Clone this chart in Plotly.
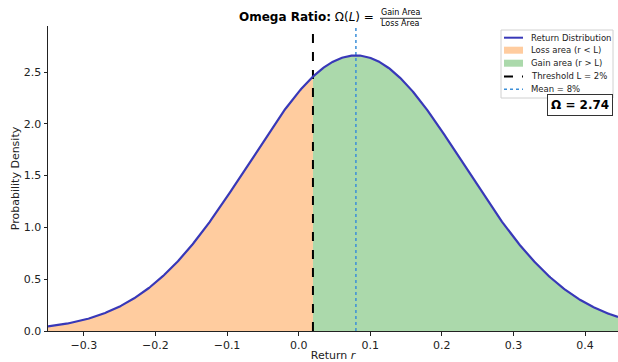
import numpy as np
import plotly.graph_objects as go

# Values
mean_return = 0.08
std_return = 0.15
threshold = 0.02
omega_value = 2.74
x_min, x_max = -0.35, 0.446
y_max = 2.944
x_ticks = [-0.3, -0.2, -0.1, 0.0, 0.1, 0.2, 0.3, 0.4]
y_ticks = [0.0, 0.5, 1.0, 1.5, 2.0, 2.5]
legend_labels = ["Return Distribution", "Loss area (r < L)", "Gain area (r > L)",
                 "Threshold L = 2%", "Mean = 8%"]

r = np.linspace(x_min, x_max, 600)
pdf = np.exp(-0.5 * ((r - mean_return) / std_return) ** 2) / (std_return * np.sqrt(2 * np.pi))

loss_mask = r <= threshold
gain_mask = r >= threshold
pdf_L = np.exp(-0.5 * ((threshold - mean_return) / std_return) ** 2) / (std_return * np.sqrt(2 * np.pi))
r_loss = np.append(r[loss_mask], threshold)
p_loss = np.append(pdf[loss_mask], pdf_L)
r_gain = np.insert(r[gain_mask], 0, threshold)
p_gain = np.insert(pdf[gain_mask], 0, pdf_L)

W, H = 618, 362
L, R, T, B = 48, 0, 26, 31
pw, ph = W - L - R, H - T - B
def px(x):
    return (x - L) / pw
def py(y):
    return (H - B - y) / ph

C_CURVE = "#3838B8"
C_LOSS = "#FFCC9F"
C_GAIN = "#ABD9AB"
C_MEAN = "#3C8FD8"

fig = go.Figure()
fig.add_trace(go.Scatter(x=r_loss, y=p_loss, fill="tozeroy", mode="none",
                         fillcolor=C_LOSS, name=legend_labels[1]))
fig.add_trace(go.Scatter(x=r_gain, y=p_gain, fill="tozeroy", mode="none",
                         fillcolor=C_GAIN, name=legend_labels[2]))
fig.add_trace(go.Scatter(x=[threshold, threshold], y=[0, y_max], mode="lines",
                         line=dict(color="black", width=2, dash="dash"),
                         name=legend_labels[3]))
fig.add_trace(go.Scatter(x=[mean_return, mean_return], y=[0, y_max], mode="lines",
                         line=dict(color=C_MEAN, width=1.5, dash="dot"),
                         name=legend_labels[4]))
fig.add_trace(go.Scatter(x=r, y=pdf, mode="lines",
                         line=dict(color=C_CURVE, width=2.2),
                         name=legend_labels[0]))

font = "DejaVu Sans"
fig.update_layout(
    width=W, height=H,
    margin=dict(l=L, r=R, t=T, b=B),
    paper_bgcolor="white", plot_bgcolor="white",
    font=dict(family=font, color="#222", size=11),
    showlegend=False,
    xaxis=dict(range=[x_min, x_max], tickvals=x_ticks,
               ticktext=[f"{v:.1f}".replace("-", "\u2212") for v in x_ticks],
               showgrid=False, zeroline=False, showline=True, linecolor="#222", linewidth=1,
               ticks="outside", ticklen=3.5, tickcolor="#222",
               title=dict(text="Return <i>r</i>", font=dict(size=11), standoff=4)),
    yaxis=dict(range=[0, y_max], tickvals=y_ticks,
               ticktext=[f"{v:.1f}" for v in y_ticks],
               showgrid=False, zeroline=False, showline=True, linecolor="#222", linewidth=1,
               ticks="outside", ticklen=3.5, tickcolor="#222",
               title=dict(text="Probability Density", font=dict(size=11), standoff=1)),
)

# Title with fraction
fig.add_annotation(xref="paper", yref="paper", x=px(376), y=py(17), xanchor="right", yanchor="middle",
                   text="<b>Omega Ratio:</b> \u03a9(<i>L</i>) =", showarrow=False,
                   font=dict(size=12, family=font, color="black"))
fig.add_annotation(xref="paper", yref="paper", x=px(400.5), y=py(12.5), xanchor="center", yanchor="middle",
                   text="Gain Area", showarrow=False, font=dict(size=8, family=font, color="black"))
fig.add_annotation(xref="paper", yref="paper", x=px(400.5), y=py(23.5), xanchor="center", yanchor="middle",
                   text="Loss Area", showarrow=False, font=dict(size=8, family=font, color="black"))
fig.add_shape(type="line", xref="paper", yref="paper", x0=px(380), x1=px(422), y0=py(18.3), y1=py(18.3),
              line=dict(color="black", width=0.8))

# Custom compact legend
fig.add_shape(type="rect", xref="paper", yref="paper", x0=px(501), x1=px(613), y0=py(30), y1=py(98),
              line=dict(color="#d0d0d0", width=1), fillcolor="rgba(255,255,255,0.85)", layer="above")
rows = [37.7, 50.2, 63.2, 76.4, 89.3]
sx0, sx1 = 504, 523
fig.add_shape(type="line", xref="paper", yref="paper", x0=px(sx0), x1=px(sx1), y0=py(rows[0]), y1=py(rows[0]),
              line=dict(color=C_CURVE, width=2), layer="above")
fig.add_shape(type="rect", xref="paper", yref="paper", x0=px(sx0), x1=px(sx1), y0=py(rows[1] - 3.5), y1=py(rows[1] + 3.5),
              line=dict(width=0), fillcolor=C_LOSS, layer="above")
fig.add_shape(type="rect", xref="paper", yref="paper", x0=px(sx0), x1=px(sx1), y0=py(rows[2] - 3.5), y1=py(rows[2] + 3.5),
              line=dict(width=0), fillcolor=C_GAIN, layer="above")
fig.add_shape(type="line", xref="paper", yref="paper", x0=px(sx0), x1=px(sx1), y0=py(rows[3]), y1=py(rows[3]),
              line=dict(color="black", width=2, dash="dash"), layer="above")
fig.add_shape(type="line", xref="paper", yref="paper", x0=px(sx0), x1=px(sx1), y0=py(rows[4]), y1=py(rows[4]),
              line=dict(color=C_MEAN, width=1.5, dash="dot"), layer="above")
for yy, lab in zip(rows, legend_labels):
    fig.add_annotation(xref="paper", yref="paper", x=px(529), y=py(yy), xanchor="left", yanchor="middle",
                       text=lab, showarrow=False, font=dict(size=8.5, family=font, color="#222"))

# Omega value box
fig.add_annotation(xref="paper", yref="paper", x=px(580), y=py(105), xanchor="center", yanchor="middle",
                   text=f"<b>\u03a9 = {omega_value:.2f}</b>", showarrow=False,
                   font=dict(size=12, family=font, color="black"),
                   bgcolor="white", bordercolor="#333", borderwidth=1, borderpad=3)

fig.write_html("out.html")
